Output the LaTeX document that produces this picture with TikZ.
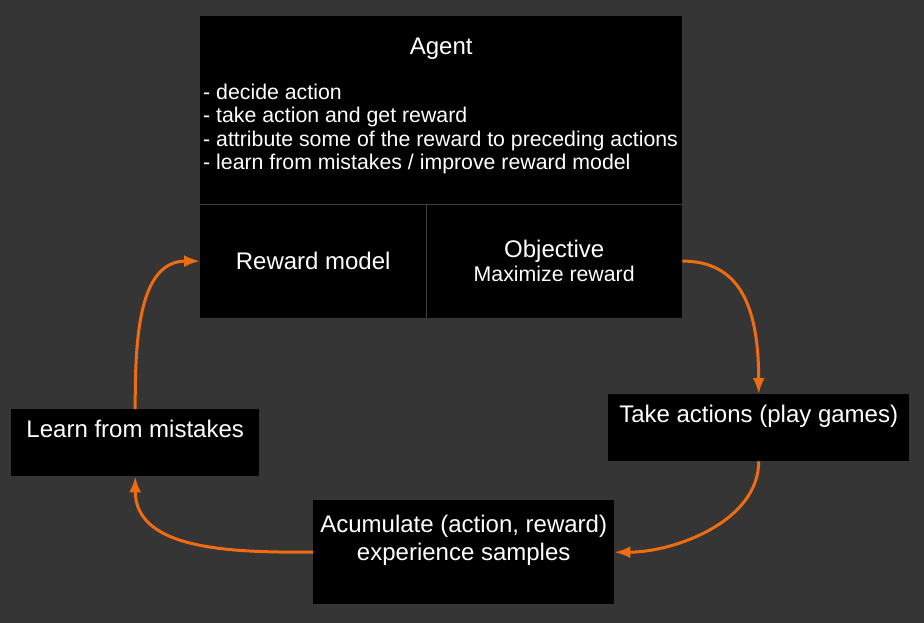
\documentclass[tikz,border=0pt]{standalone}
\usepackage{fontspec}
\setmainfont{Liberation Sans}
\usepackage{tikz}
\usetikzlibrary{arrows.meta, calc, positioning}
\definecolor{boardGray}{RGB}{53,53,53}
\definecolor{cellLine}{RGB}{64,64,64}
\definecolor{loopOrange}{RGB}{240,108,18}
\tikzset{
	cell/.style={fill=black, text=white, inner sep=0pt, font=\fontsize{24}{28}\selectfont},
	celltext/.style={text=white, inner sep=0pt, font=\fontsize{24}{28}\selectfont},
	listtext/.style={text=white, inner sep=0pt, align=left, font=\fontsize{21.3}{23.4}\selectfont},
	stepbox/.style={cell, minimum width=301pt, text height=28pt, text depth=39pt},
	flow/.style={line width=3pt, loopOrange, -{Latex[length=16pt, width=12pt]}}
}

\begin{document}
\begin{tikzpicture}[x=1pt, y=-1pt]

	\useasboundingbox (0,0) rectangle (924,623);
	\fill[boardGray] (0,0) rectangle (924,623);

	% agent block
	\node[cell, minimum width=482pt, minimum height=188pt, anchor=north west] (agent) at (200,16) {};
	\node[cell, minimum width=226pt, minimum height=113pt, anchor=north west] (reward) at (agent.south west) {Reward model};
	\node[cell, minimum width=256pt, minimum height=113pt, anchor=north east, align=center, font=\fontsize{24}{24.5}\selectfont] (objective) at (agent.south east) {Objective\\{\fontsize{21.3}{24.5}\selectfont Maximize reward}};

	\draw[cellLine, line width=1pt] (agent.south west) -- (agent.south east);
	\draw[cellLine, line width=1pt] (reward.north east) -- (reward.south east);

	\node[celltext, anchor=base] (agentTitle) at ($ (agent.north)+(0,39) $) {Agent};
	\node[listtext, anchor=base west] (agentList) at ($ (agent.north west)+(3,153.5) $) {- decide action\\- take action and get reward\\- attribute some of the reward to preceding actions\\- learn from mistakes / improve reward model};

	% loop steps
	\node[stepbox, anchor=north west] (act) at (608,394) {Take actions (play games)};
	\node[cell, minimum width=301pt, text height=60pt, text depth=44pt, align=center, anchor=north west] (accum) at (313,500) {Acumulate (action, reward)\\experience samples};
	\node[stepbox, minimum width=248pt, anchor=north west] (learn) at (11,409) {Learn from mistakes};

	\draw[flow] (objective.east) to[out=0, in=90, out looseness=0.9, in looseness=1.55] (act.north);
	\draw[flow] (act.south) to[out=-90, in=0, looseness=0.9] (accum.east);
	\draw[flow] (accum.west) to[out=180, in=-90] (learn.south);
	\draw[flow] (learn.north) to[out=90, in=180] (reward.west);

\end{tikzpicture}
\end{document}
